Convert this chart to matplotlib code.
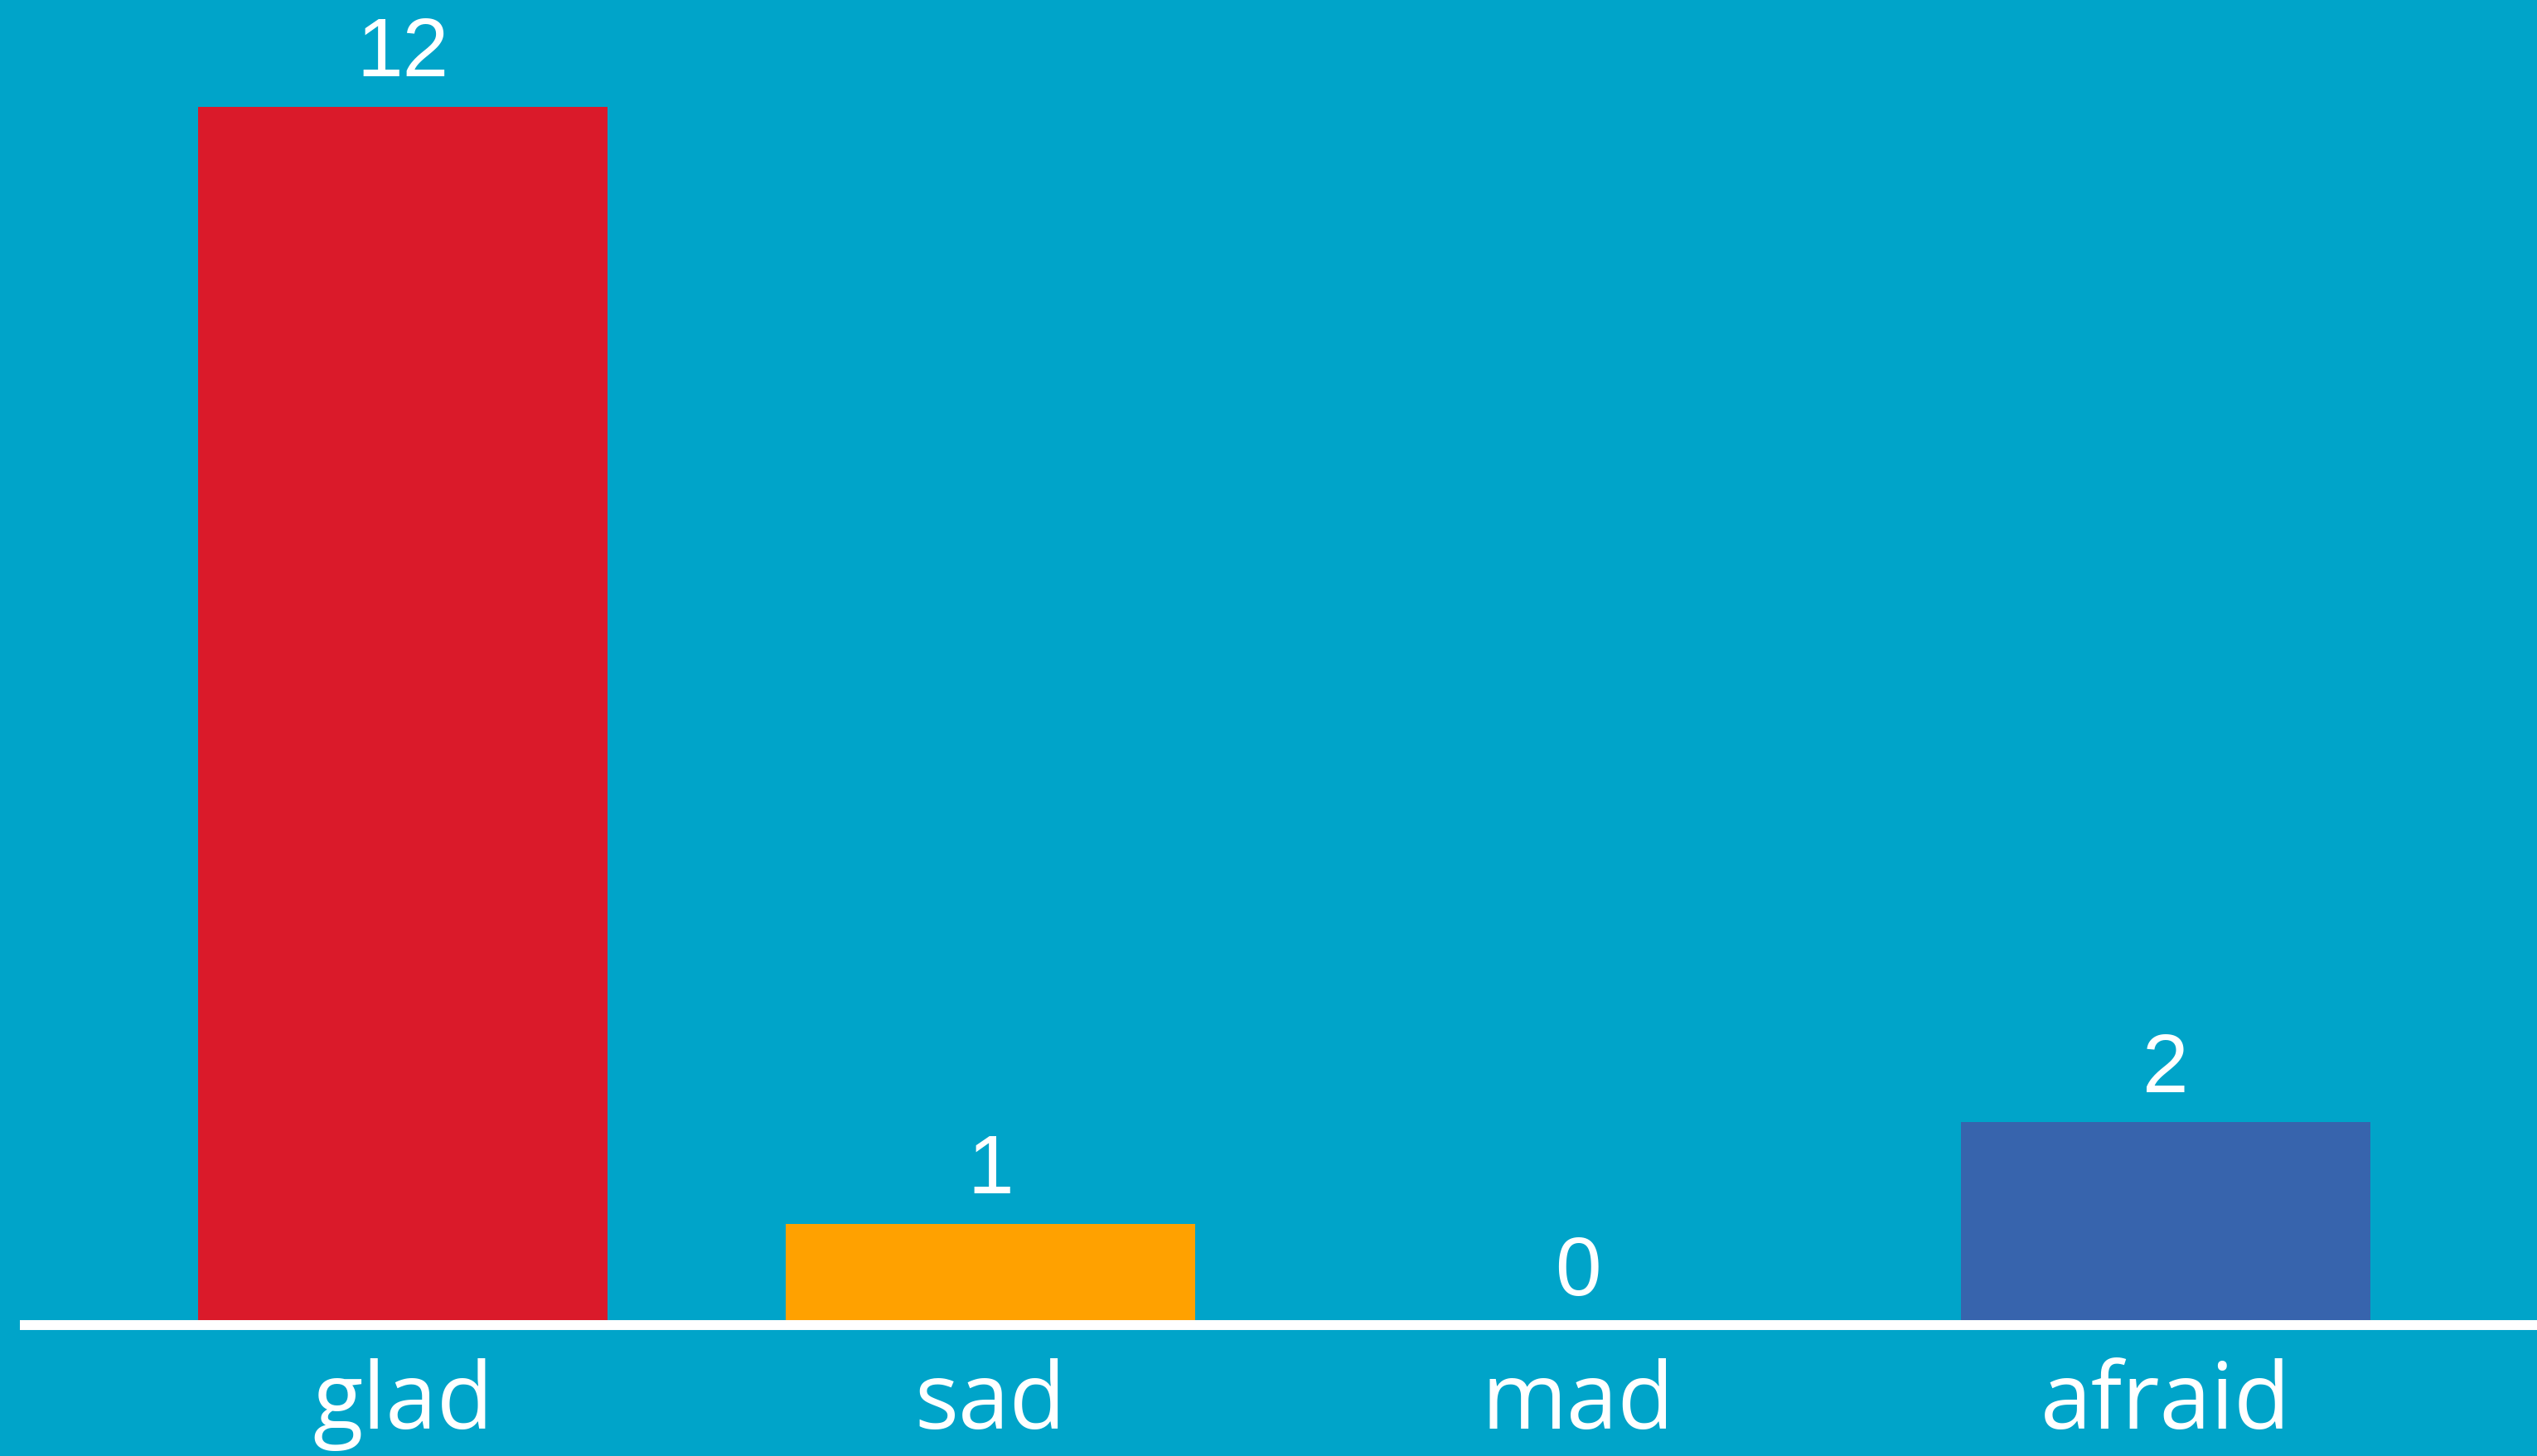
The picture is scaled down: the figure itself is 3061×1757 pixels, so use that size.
import matplotlib
matplotlib.use("Agg")
import matplotlib.pyplot as plt

categories = ["glad", "sad", "mad", "afraid"]
values = [12, 1, 0, 2]
bar_colors = ["#DA1A2A", "#FFA100", "#2E8FC0", "#3764AD"]

BG = "#00A4C9"
W, H = 3061, 1757
DPI = 100

fig = plt.figure(figsize=(W / DPI, H / DPI), dpi=DPI, facecolor=BG)
ax = fig.add_axes([24 / W, 0.0899, 1 - 24 / W, 0.9101])
ax.set_facecolor(BG)

x = list(range(len(categories)))
bars = ax.bar(x, values, width=0.697, color=bar_colors, zorder=2)

ax.set_xlim(-0.652, 3.632)
ax.set_ylim(0, 13.05)

for spine in ["top", "right", "left", "bottom"]:
    ax.spines[spine].set_visible(False)
ax.axhline(0, color="white", linewidth=8.6, zorder=3, solid_capstyle="butt",
           clip_on=False)

ax.set_yticks([])
ax.set_xticks(x)
ax.set_xticklabels(categories, fontsize=80, color="white", family="Open Sans")
ax.tick_params(axis="x", length=0, pad=29)

for xi, v in zip(x, values):
    ax.annotate(str(v), xy=(xi, v), xytext=(0, 11), textcoords="offset points",
                ha="center", va="bottom", fontsize=72, color="white",
                family="Liberation Sans", zorder=4)

fig.savefig("out.png", dpi=DPI, facecolor=BG)
